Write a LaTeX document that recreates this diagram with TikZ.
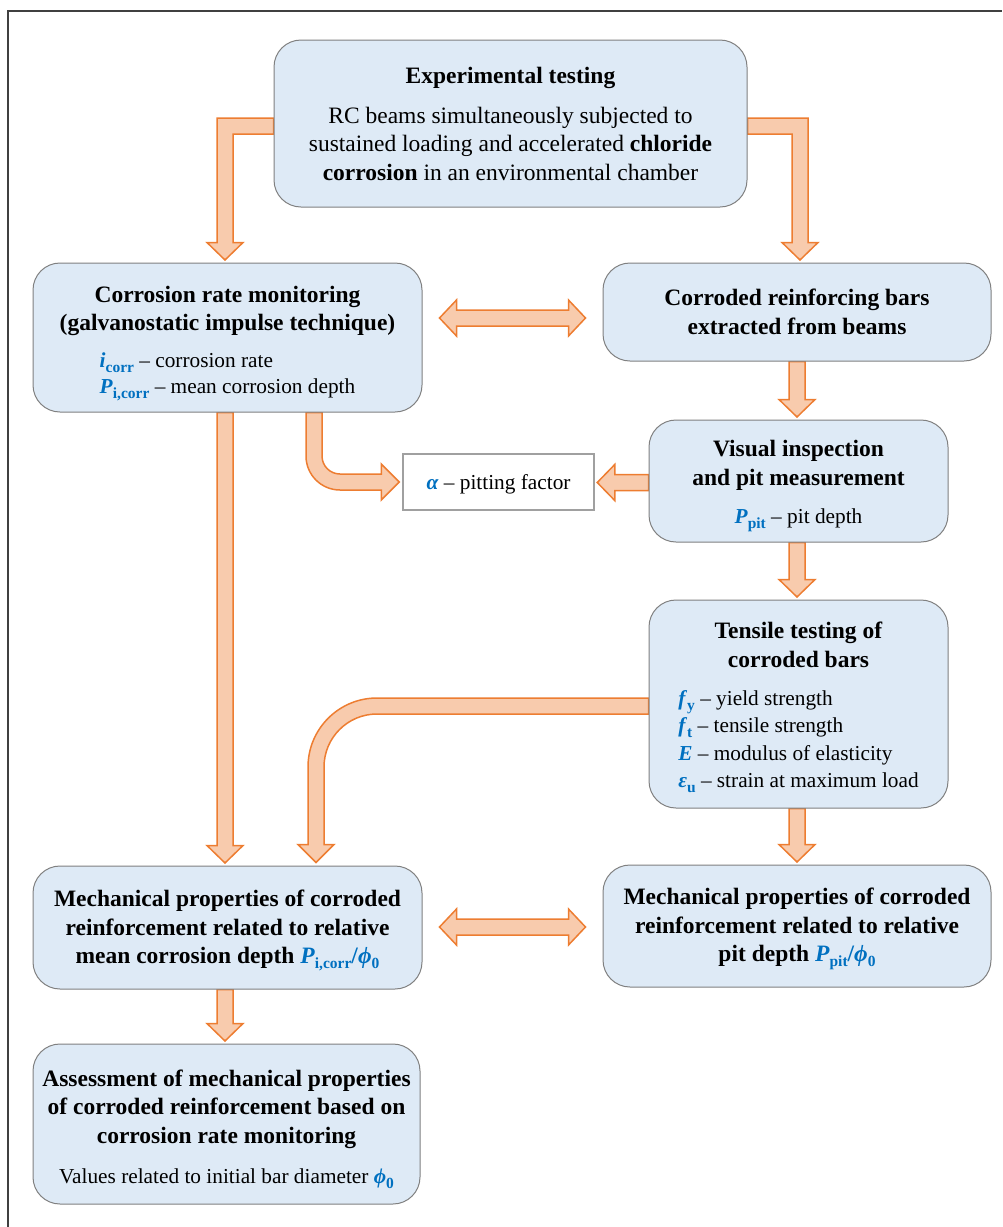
\documentclass[tikz,border=0pt]{standalone}
\usepackage{fontspec}
\setmainfont{Liberation Serif}
\usetikzlibrary{backgrounds,calc}
\definecolor{boxfill}{RGB}{222,234,246}
\definecolor{boxline}{RGB}{128,128,128}
\definecolor{alphaline}{RGB}{160,160,160}
\definecolor{arrfill}{RGB}{248,203,173}
\definecolor{arrline}{RGB}{237,125,49}
\definecolor{blu}{RGB}{0,112,192}
\newcommand\mainfnt{\fontsize{23.5}{28.5}\selectfont}
\newcommand\lstA{\fontsize{21.3}{25.5}\selectfont}
\newcommand\lstB{\fontsize{21.3}{27.3}\selectfont}
\newcommand\bl[1]{\textcolor{blu}{\textbf{\textit{#1}}}}
\newcommand\sbs[1]{\textcolor{blu}{\raisebox{-0.22em}{\fontsize{15.5}{15.5}\selectfont\textbf{#1}}}}
\newcommand\fatdown[3]{\path[fatarrow] let \p1=(#2.south), \p2=(#3.north) in
  (#1pt-8pt,\y1) -- (#1pt-8pt,\y2+20pt) -- (#1pt-18pt,\y2+20pt) -- (#1pt,\y2+2.5pt)
  -- (#1pt+18pt,\y2+20pt) -- (#1pt+8pt,\y2+20pt) -- (#1pt+8pt,\y1) -- cycle;}
\newcommand\fatboth[3]{\path[fatarrow] let \p1=(#1.east), \p2=(#2.west) in
  (\x1+17pt,-#3pt) -- (\x1+34pt,-#3pt+18pt) -- (\x1+34pt,-#3pt+8pt) -- (\x2-34pt,-#3pt+8pt)
  -- (\x2-34pt,-#3pt+18pt) -- (\x2-17pt,-#3pt) -- (\x2-34pt,-#3pt-18pt) -- (\x2-34pt,-#3pt-8pt)
  -- (\x1+34pt,-#3pt-8pt) -- (\x1+34pt,-#3pt-18pt) -- cycle;}
\begin{document}
\begin{tikzpicture}[x=1pt,y=-1pt,
  box/.style={draw=boxline, fill=boxfill, line width=1pt, rounded corners=27pt, inner sep=0pt},
  txt/.style={align=center, inner sep=0pt, font=\mainfnt},
  fatarrow/.style={fill=arrfill, draw=arrline, line width=1.5pt, line join=miter}]
\useasboundingbox (0,0) rectangle (1002,1227);
\draw[line width=1.5pt, black!75] (8,1227) -- (8,11) -- (1002,11);

\node[box, minimum width=473pt, minimum height=167pt] (b1) at (510.5,123.5) {};
\node[txt] (t1) at (b1.center)
  {\textbf{Experimental testing}\\[11.5pt]
   RC beams simultaneously subjected to\\
   sustained loading and accelerated \textbf{chloride}\\
   \textbf{corrosion} in an environmental chamber};

\node[box, minimum width=389pt, minimum height=149pt] (b2) at (227.5,337.5) {};
\node[txt] (t2) at ([yshift=-6pt]b2.center)
  {\textbf{Corrosion rate monitoring}\\
   \textbf{(galvanostatic impulse technique)}\\[8.5pt]
   {\lstA\begin{tabular}[t]{@{}l@{}}\bl{i}\sbs{corr} – corrosion rate\\
    \bl{P}\sbs{i,corr} – mean corrosion depth\end{tabular}}};

\node[box, minimum width=388pt, minimum height=98pt] (b3) at (797,312) {};
\node[txt] (t3) at (b3.center)
  {\textbf{Corroded reinforcing bars}\\ \textbf{extracted from beams}};

\node[box, minimum width=299pt, minimum height=122pt] (b4) at (798.5,481) {};
\node[txt] (t4) at ([yshift=-5pt]b4.center)
  {\textbf{Visual inspection}\\ \textbf{and pit measurement}\\[9.5pt]
   {\lstA\bl{P}\sbs{pit} – pit depth}};

\node[draw=alphaline, fill=white, line width=1.5pt, minimum width=191pt,
  minimum height=56pt, inner sep=0pt] (b5) at (498.5,482) {};
\node[txt, font=\lstA] (t5) at ([yshift=-2pt]b5.center) {\bl{α} – pitting factor};

\node[box, minimum width=299pt, minimum height=208pt] (b6) at (798.5,704) {};
\node[txt] (t6) at ([yshift=-5pt]b6.center)
  {\textbf{Tensile testing of}\\ \textbf{corroded bars}\\[9.5pt]
   {\lstB\begin{tabular}[t]{@{}l@{}}\bl{f}\sbs{y} – yield strength\\
    \bl{f}\sbs{t} – tensile strength\\
    \bl{E} – modulus of elasticity\\
    \bl{ε}\sbs{u} – strain at maximum load\end{tabular}}};

\node[box, minimum width=389pt, minimum height=123pt] (b7) at (227.5,927.5) {};
\node[txt] (t7) at ([yshift=-3pt]b7.center)
  {\textbf{Mechanical properties of corroded}\\
   \textbf{reinforcement related to relative}\\
   \textbf{mean corrosion depth \bl{P}\sbs{i,corr}\textcolor{blu}{/}\bl{ϕ}\sbs{0}}};

\node[box, minimum width=388pt, minimum height=122pt] (b8) at (797,926) {};
\node[txt] (t8) at ([yshift=-3pt]b8.center)
  {\textbf{Mechanical properties of corroded}\\
   \textbf{reinforcement related to relative}\\
   \textbf{pit depth \bl{P}\sbs{pit}\textcolor{blu}{/}\bl{ϕ}\sbs{0}}};

\node[box, minimum width=387pt, minimum height=160pt] (b9) at (226.5,1124) {};
\node[txt] (t9) at ([yshift=-5pt]b9.center)
  {\textbf{Assessment of mechanical properties}\\
   \textbf{of corroded reinforcement based on}\\
   \textbf{corrosion rate monitoring}\\[11.5pt]
   {\lstA Values related to initial bar diameter \bl{ϕ}\sbs{0}}};

\begin{scope}[on background layer]
% experimental testing -> corrosion rate monitoring
\path[fatarrow] let \p1=(b1.west), \p2=(b2.north) in
  (\x1,-118pt) -- (217pt,-118pt) -- (217pt,\y2+20pt) -- (207pt,\y2+20pt) -- (225pt,\y2+2.5pt)
  -- (243pt,\y2+20pt) -- (233pt,\y2+20pt) -- (233pt,-134pt) -- (\x1,-134pt) -- cycle;
% experimental testing -> corroded bars
\path[fatarrow] let \p1=(b1.east), \p2=(b3.north) in
  (\x1,-118pt) -- (808pt,-118pt) -- (808pt,\y2+20pt) -- (818pt,\y2+20pt) -- (800pt,\y2+2.5pt)
  -- (782pt,\y2+20pt) -- (792pt,\y2+20pt) -- (792pt,-134pt) -- (\x1,-134pt) -- cycle;
\fatboth{b2}{b3}{318}
\fatboth{b7}{b8}{927}
\fatdown{797}{b3}{b4}
\fatdown{797}{b4}{b6}
\fatdown{797}{b6}{b8}
\fatdown{225}{b2}{b7}
\fatdown{225}{b7}{b9}
% visual inspection -> pitting factor
\path[fatarrow] let \p1=(b4.west), \p2=(b5.east) in
  (\x1,-474.5pt) -- (\x2+20pt,-474.5pt) -- (\x2+20pt,-464.5pt) -- (\x2+2.5pt,-482.5pt)
  -- (\x2+20pt,-500.5pt) -- (\x2+20pt,-490.5pt) -- (\x1,-490.5pt) -- cycle;
% corrosion rate monitoring -> pitting factor
\path[fatarrow] let \p1=(b2.south), \p2=(b5.west) in
  (306pt,\y1) -- (306pt,-456pt) arc[start angle=180,end angle=270,radius=34pt]
  -- (\x2-21pt,-490pt) -- (\x2-21pt,-500pt) -- (\x2-3pt,-482pt) -- (\x2-21pt,-464pt)
  -- (\x2-21pt,-474pt) -- (340pt,-474pt) arc[start angle=270,end angle=180,radius=18pt]
  -- (322pt,\y1) -- cycle;
% tensile testing -> mechanical properties (mean)
\path[fatarrow] let \p1=(b6.west), \p2=(b7.north) in
  (\x1,-698pt) -- (377pt,-698pt) arc[start angle=90,end angle=180,radius=69pt]
  -- (308pt,\y2+21pt) -- (298pt,\y2+21pt) -- (316pt,\y2+3pt) -- (334pt,\y2+21pt)
  -- (324pt,\y2+21pt) -- (324pt,-767pt) arc[start angle=180,end angle=90,radius=53pt]
  -- (\x1,-714pt) -- cycle;
\end{scope}
\end{tikzpicture}
\end{document}
